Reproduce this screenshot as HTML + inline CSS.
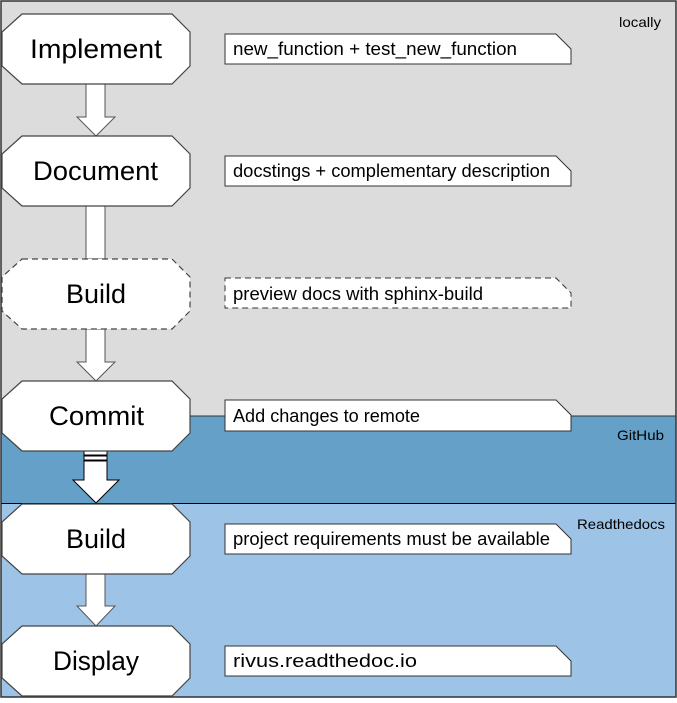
<!DOCTYPE html>
<html><head><style>body{margin:0;background:#fff}</style></head><body>
<svg width="677" height="698" xmlns="http://www.w3.org/2000/svg" font-family="Liberation Sans, DejaVu Sans, sans-serif">
<rect x="1" y="1" width="675" height="415" fill="#dcdcdc"/>
<rect x="1" y="416" width="675" height="88" fill="#64a0c8"/>
<rect x="1" y="504" width="675" height="193" fill="#9dc3e6"/>
<line x1="190" y1="416" x2="676" y2="416" stroke="#333" stroke-width="1"/>
<line x1="1" y1="503.5" x2="676" y2="503.5" stroke="#000" stroke-width="1"/>
<rect x="1" y="1" width="675" height="696" fill="none" stroke="#333" stroke-width="1.5"/>
<text x="619" y="27" font-size="14" textLength="42" lengthAdjust="spacingAndGlyphs">locally</text>
<text x="617" y="440" font-size="14" textLength="47" lengthAdjust="spacingAndGlyphs">GitHub</text>
<text x="577" y="529" font-size="14" textLength="88" lengthAdjust="spacingAndGlyphs">Readthedocs</text>
<g fill="#fff" stroke="#555" stroke-width="1">
<polygon points="86,84 105,84 105,117 115,117 96,136 77,117 86,117"/>
<rect x="86" y="206" width="19" height="53"/>
<polygon points="86,329 105,329 105,362 115,362 96,381 77,362 86,362"/>
<rect x="84" y="451" width="23" height="4" stroke="#000"/>
<rect x="84" y="456" width="23" height="4" stroke="#000"/>
<polygon points="84,461 107,461 107,480 119,480 96,503 73,480 84,480" stroke="#000"/>
<polygon points="86,574 105,574 105,606 115,606 96,626 77,606 86,606"/>
</g>
<g fill="#fff" stroke="#444" stroke-width="1.2">
<polygon points="22,14 172,14 190,32 190,66 172,84 22,84 2,66 2,32"/>
<polygon points="22,136 172,136 190,154 190,188 172,206 22,206 2,188 2,154"/>
<polygon points="22,259 172,259 190,277 190,311 172,329 22,329 2,311 2,277" stroke-dasharray="6,4"/>
<polygon points="22,381 172,381 190,399 190,433 172,451 22,451 2,433 2,399"/>
<polygon points="22,504 172,504 190,522 190,556 172,574 22,574 2,556 2,522"/>
<polygon points="22,626 172,626 190,644 190,678 172,696 22,696 2,678 2,644"/>
</g>
<g font-size="27" fill="#000" lengthAdjust="spacingAndGlyphs">
<text x="30" y="58" textLength="132" lengthAdjust="spacingAndGlyphs">Implement</text>
<text x="33" y="180" textLength="125" lengthAdjust="spacingAndGlyphs">Document</text>
<text x="66" y="303" textLength="60" lengthAdjust="spacingAndGlyphs">Build</text>
<text x="49" y="425" textLength="95" lengthAdjust="spacingAndGlyphs">Commit</text>
<text x="66" y="548" textLength="60" lengthAdjust="spacingAndGlyphs">Build</text>
<text x="53" y="670" textLength="86" lengthAdjust="spacingAndGlyphs">Display</text>
</g>
<g fill="#fff" stroke="#333" stroke-width="1">
<polygon points="225,34 556,34 571,49 571,64 225,64"/>
<polygon points="225,156 556,156 571,171 571,186 225,186"/>
<polygon points="225,278 556,278 571,293 571,308 225,308" stroke-dasharray="6,4"/>
<polygon points="225,400 556,400 571,415 571,431 225,431"/>
<polygon points="225,524 556,524 571,539 571,554 225,554"/>
<polygon points="225,646 556,646 571,661 571,676 225,676"/>
</g>
<g font-size="18" fill="#000">
<text x="233" y="55" textLength="284" lengthAdjust="spacingAndGlyphs">new_function + test_new_function</text>
<text x="233" y="177" textLength="317" lengthAdjust="spacingAndGlyphs">docstings + complementary description</text>
<text x="233" y="300" textLength="250" lengthAdjust="spacingAndGlyphs">preview docs with sphinx-build</text>
<text x="233" y="422" textLength="187" lengthAdjust="spacingAndGlyphs">Add changes to remote</text>
<text x="233" y="545" textLength="317" lengthAdjust="spacingAndGlyphs">project requirements must be available</text>
<text x="233" y="667" textLength="184" lengthAdjust="spacingAndGlyphs">rivus.readthedoc.io</text>
</g>
</svg>
</body></html>
